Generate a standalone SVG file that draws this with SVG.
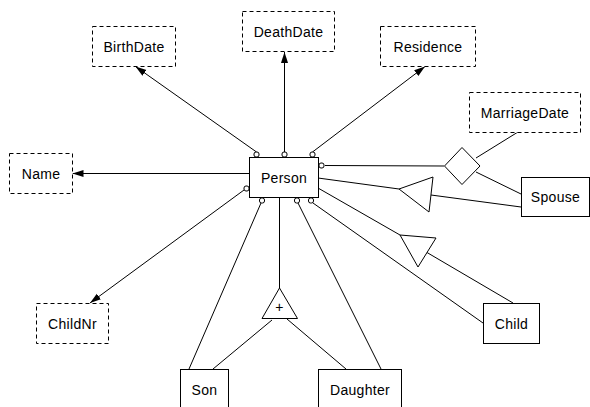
<svg xmlns="http://www.w3.org/2000/svg" width="590" height="407" viewBox="0 0 590 407">
<style>
.box{fill:#fff;stroke:#000;stroke-width:1}
.attr{fill:#fff;stroke:#000;stroke-width:1;stroke-dasharray:4 3}
.lbl{font-family:"Liberation Sans",Arial,sans-serif;font-size:14px;fill:#000;text-anchor:middle;dominant-baseline:central;letter-spacing:0.3px}
.ln{stroke:#000;stroke-width:1;fill:none}
.shape{fill:#fff;stroke:#000;stroke-width:1}
.pin{fill:#fff;stroke:#000;stroke-width:1}
</style>
<defs>
<marker id="arr" markerUnits="userSpaceOnUse" markerWidth="12" markerHeight="8" refX="11" refY="4" orient="auto">
<path d="M0,0.5 L11,4 L0,7.5 Z" fill="#000"/>
</marker>
</defs>
<rect width="590" height="407" fill="#fff"/>
<g id="connectors">
<line class="ln" x1="256.5" y1="152" x2="135.5" y2="66.5" marker-end="url(#arr)"/>
<line class="ln" x1="284.5" y1="152" x2="284.5" y2="52" marker-end="url(#arr)"/>
<line class="ln" x1="312.5" y1="152" x2="425" y2="66.5" marker-end="url(#arr)"/>
<line class="ln" x1="249" y1="173.5" x2="72.5" y2="173.5" marker-end="url(#arr)"/>
<line class="ln" x1="244" y1="190" x2="90" y2="303" marker-end="url(#arr)"/>
<line class="ln" x1="325" y1="165.5" x2="444" y2="166"/>
<line class="ln" x1="476" y1="158" x2="518" y2="132"/>
<line class="ln" x1="476" y1="172" x2="521" y2="194"/>
<line class="ln" x1="318" y1="178" x2="399" y2="189"/>
<line class="ln" x1="431" y1="195" x2="521" y2="207"/>
<line class="ln" x1="318" y1="188" x2="400" y2="235"/>
<line class="ln" x1="427" y1="252.5" x2="513" y2="303"/>
<line class="ln" x1="313" y1="203" x2="483" y2="323"/>
<line class="ln" x1="261" y1="203" x2="189" y2="369"/>
<line class="ln" x1="279.5" y1="198" x2="279.5" y2="288"/>
<line class="ln" x1="272" y1="320" x2="213" y2="369"/>
<line class="ln" x1="287" y1="319" x2="346" y2="369"/>
<line class="ln" x1="298" y1="203" x2="381" y2="369"/>
<polygon class="shape" points="462,147.5 480,166 462,184.5 444.5,166"/>
<polygon class="shape" points="399,189 433,177 429,212"/>
<polygon class="shape" points="400,235 436,238 418,267"/>
<polygon class="shape" points="279.5,288 262,318.5 297.5,318.5"/>
<text class="lbl" x="279.5" y="307">+</text>
</g>
<g id="Person">
<rect class="box" x="249.5" y="157.5" width="69" height="40"/>
<text class="lbl" x="284" y="178">Person</text>
<rect class="pin" x="254" y="152" width="5" height="5" rx="2"/>
<rect class="pin" x="282" y="152" width="5" height="5" rx="2"/>
<rect class="pin" x="310" y="152" width="5" height="5" rx="2"/>
<rect class="pin" x="319" y="163" width="5" height="5" rx="2"/>
<rect class="pin" x="244" y="186" width="5" height="5" rx="2"/>
<rect class="pin" x="259.5" y="198" width="5" height="5" rx="2"/>
<rect class="pin" x="294.5" y="198" width="5" height="5" rx="2"/>
<rect class="pin" x="308.5" y="198" width="5" height="5" rx="2"/>
</g>
<g id="BirthDate">
<rect class="attr" x="92.5" y="26.5" width="83" height="40"/>
<text class="lbl" x="134" y="46.5">BirthDate</text>
</g>
<g id="DeathDate">
<rect class="attr" x="242.5" y="11.5" width="92" height="40"/>
<text class="lbl" x="288.5" y="31.5">DeathDate</text>
</g>
<g id="Residence">
<rect class="attr" x="380.5" y="26.5" width="95" height="40"/>
<text class="lbl" x="428" y="46.5">Residence</text>
</g>
<g id="MarriageDate">
<rect class="attr" x="469.5" y="92.5" width="111" height="40"/>
<text class="lbl" x="525" y="112.5">MarriageDate</text>
</g>
<g id="Name">
<rect class="attr" x="9.5" y="153.5" width="63" height="40"/>
<text class="lbl" x="41" y="173.5">Name</text>
</g>
<g id="ChildNr">
<rect class="attr" x="36.5" y="303.5" width="72" height="40"/>
<text class="lbl" x="72.5" y="323.5">ChildNr</text>
</g>
<g id="Spouse">
<rect class="box" x="521.5" y="177.5" width="68" height="39"/>
<text class="lbl" x="555.5" y="197">Spouse</text>
</g>
<g id="Child">
<rect class="box" x="483.5" y="303.5" width="56" height="40"/>
<text class="lbl" x="511.5" y="323.5">Child</text>
</g>
<g id="Son">
<rect class="box" x="180.5" y="369.5" width="48" height="42"/>
<text class="lbl" x="204.5" y="390">Son</text>
</g>
<g id="Daughter">
<rect class="box" x="318.5" y="369.5" width="83" height="42"/>
<text class="lbl" x="360" y="390">Daughter</text>
</g>
</svg>
